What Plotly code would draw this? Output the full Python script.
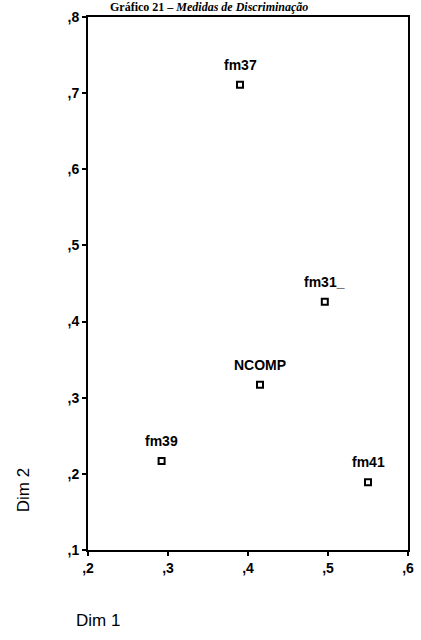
import plotly.graph_objects as go

labels = ["fm37", "fm31_", "NCOMP", "fm39", "fm41"]
dim1 = [0.390, 0.496, 0.415, 0.292, 0.550]
dim2 = [0.711, 0.426, 0.317, 0.217, 0.189]

x_ticks = [0.2, 0.3, 0.4, 0.5, 0.6]
x_ticktext = [",2", ",3", ",4", ",5", ",6"]
y_ticks = [0.1, 0.2, 0.3, 0.4, 0.5, 0.6, 0.7, 0.8]
y_ticktext = [",1", ",2", ",3", ",4", ",5", ",6", ",7", ",8"]

W, H = 421, 640
ml, mr, mt, mb = 88, 7, 17, 90
ph = H - mt - mb
pw = W - ml - mr

fig = go.Figure()
fig.add_trace(go.Scatter(
    x=dim1, y=dim2, mode="markers",
    marker=dict(symbol="square-open", size=6, color="black", line=dict(width=2, color="black")),
    hoverinfo="text", text=labels, showlegend=False,
))

for lab, xv, yv in zip(labels, dim1, dim2):
    fig.add_annotation(x=xv, y=yv, text="<b>" + lab + "</b>", showarrow=False,
                       yshift=20, xanchor="center", yanchor="middle",
                       font=dict(family="Liberation Sans, Arial", size=14, color="black"))

axis_common = dict(showline=True, linecolor="black", linewidth=2, mirror=True,
                   showgrid=False, zeroline=False, ticks="outside", ticklen=4,
                   tickcolor="black", tickwidth=2,
                   tickfont=dict(family="Liberation Sans, Arial", size=14, color="black"))

fig.update_xaxes(range=[0.2, 0.6], tickvals=x_ticks, ticktext=["<b>" + t + "</b>" for t in x_ticktext], **axis_common)
fig.update_yaxes(range=[0.1, 0.8], tickvals=y_ticks, ticktext=["<b>" + t + "</b>" for t in y_ticktext], **axis_common)

# Axis titles placed as in the original (SPSS style)
fig.add_annotation(xref="paper", yref="paper", x=(22 - ml) / pw, y=1 + (mt - 490) / ph,
                   text="Dim 2", textangle=-90, showarrow=False, xanchor="center", yanchor="middle",
                   font=dict(family="Liberation Sans, Arial", size=17, color="black"))
fig.add_annotation(xref="paper", yref="paper", x=(98 - ml) / pw, y=1 + (mt - 620) / ph,
                   text="Dim 1", showarrow=False, xanchor="center", yanchor="middle",
                   font=dict(family="Liberation Sans, Arial", size=17, color="black"))

# Title at the very top
fig.add_annotation(xref="paper", yref="paper", x=(108 - ml) / pw, y=1 + (mt - 7) / ph,
                   text="<b>Gráfico 21 – <i>Medidas de Discriminação</i></b>", showarrow=False,
                   xanchor="left", yanchor="middle",
                   font=dict(family="Liberation Serif, Times New Roman", size=12, color="black"))

fig.update_layout(width=W, height=H, margin=dict(l=ml, r=mr, t=mt, b=mb),
                  plot_bgcolor="white", paper_bgcolor="white")

fig.write_html("out.html")
